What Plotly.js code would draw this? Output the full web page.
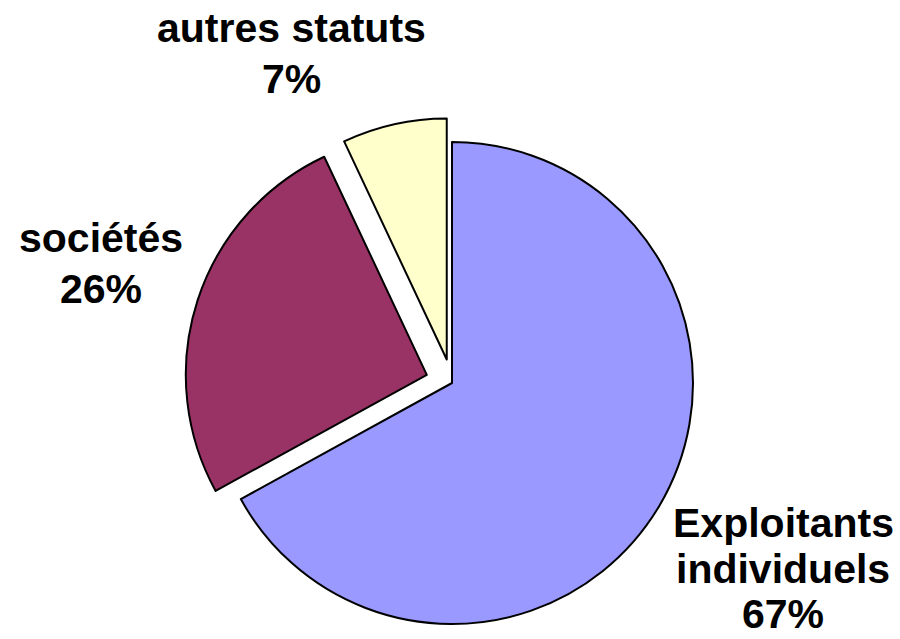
<!DOCTYPE html>
<html>
<head>
<meta charset="utf-8">
<script src="https://cdn.plot.ly/plotly-3.0.1.min.js"></script>
<style>
  html, body { margin: 0; padding: 0; background: #ffffff; }
  #wrap { width: 900px; height: 639px; overflow: hidden; position: relative; }
</style>
</head>
<body>
<div id="wrap"><div id="chart"></div></div>
<script>
// ---- data ----
const categories = ["Exploitants\nindividuels", "sociétés", "autres statuts"];
const shares = [67, 26, 7];
const colors = ["#9999FF", "#993366", "#FFFFCC"];
const pulls = [0, 0.11, 0.1];

// ---- layout helpers (label placement in pixels) ----
const W = 900, H = 660;
const FS = 41;
const labelCenterX = [783, 101, 291];
const labelBaselines = [[537, 583, 628], [252, 303], [42, 93]];

function px(x) { return x / W; }
function py(y) { return 1 - y / H; }

const annotations = [];
categories.forEach((cat, i) => {
  const lines = cat.split("\n").concat([shares[i] + "%"]);
  lines.forEach((line, j) => {
    annotations.push({
      text: line,
      xref: "paper", yref: "paper",
      x: px(labelCenterX[i]),
      y: py(labelBaselines[i][j] - 0.3465 * FS),
      xanchor: "center", yanchor: "middle",
      showarrow: false,
      font: { family: "Liberation Sans, Arial, sans-serif", size: FS, color: "#000000", weight: "bold" }
    });
  });
});

const trace = {
  type: "pie",
  labels: categories.map(c => c.replace("\n", " ")),
  values: shares,
  sort: false,
  direction: "clockwise",
  rotation: 0,
  pull: pulls,
  textinfo: "none",
  hoverinfo: "label+percent",
  marker: { colors: colors, line: { color: "#000000", width: 2 } },
  domain: { x: [px(184.5), px(719.5)], y: [1 - 650.5 / H, 1 - 115.5 / H] },
  showlegend: false
};

const layout = {
  width: W, height: H,
  margin: { l: 0, r: 0, t: 0, b: 0 },
  paper_bgcolor: "#ffffff",
  plot_bgcolor: "#ffffff",
  showlegend: false,
  annotations: annotations
};

Plotly.newPlot("chart", [trace], layout, { displayModeBar: false, staticPlot: true });
</script>
</body>
</html>
